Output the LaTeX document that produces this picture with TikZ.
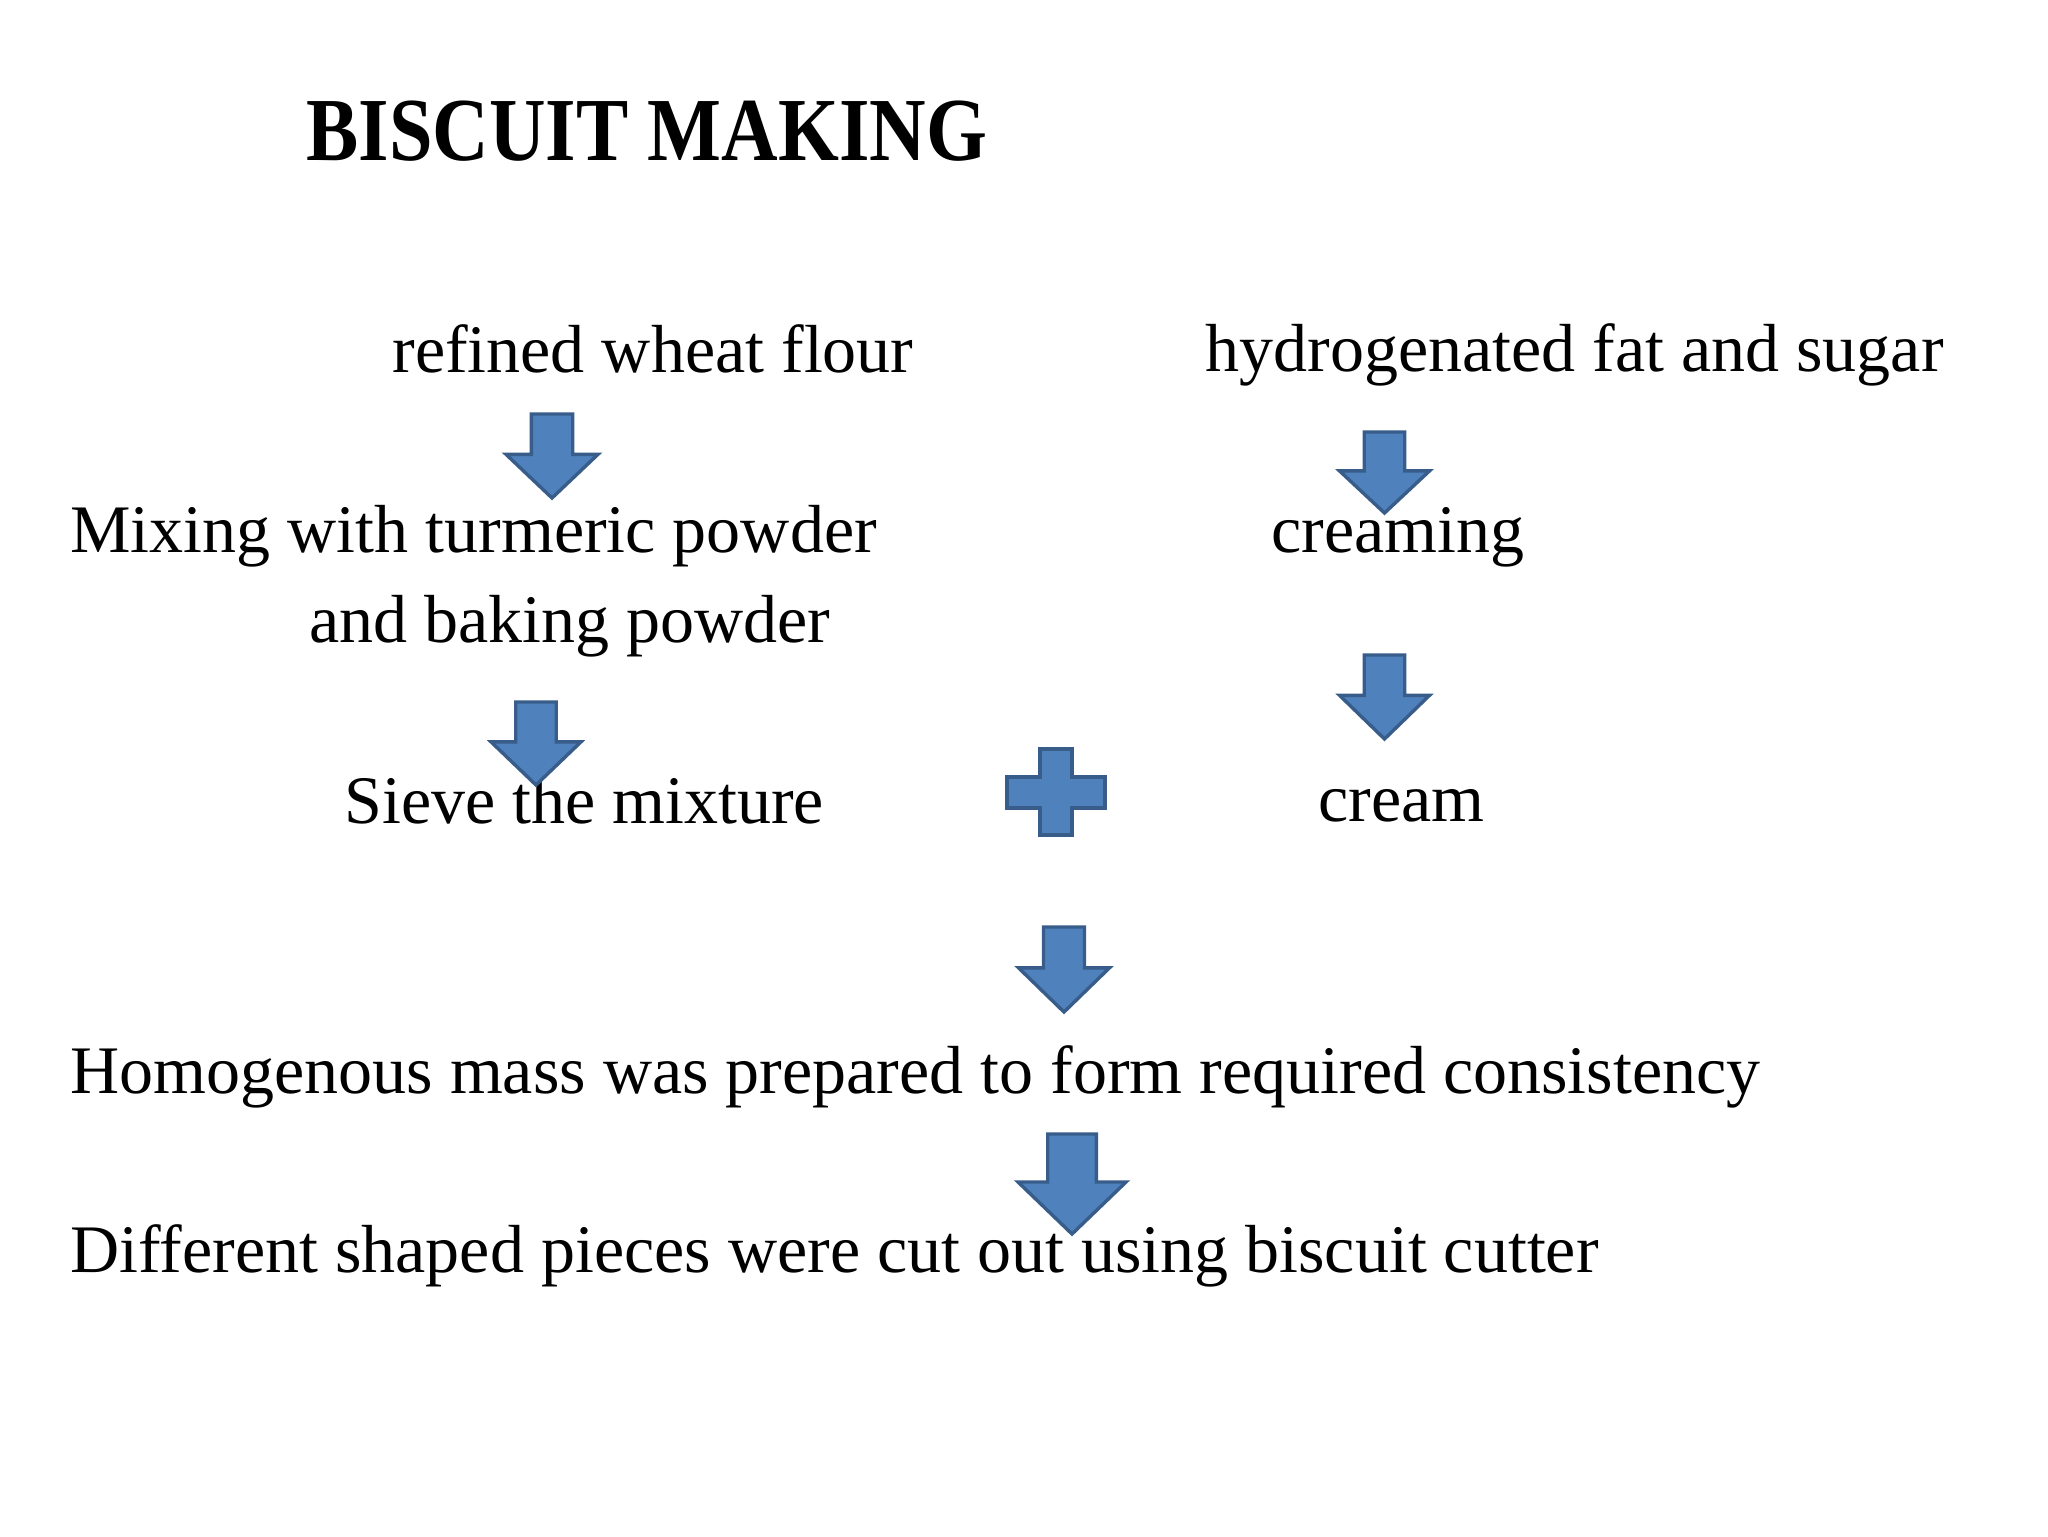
\documentclass[tikz,border=0pt]{standalone}
\usepackage{fontspec}
\setmainfont{Liberation Serif}
\definecolor{arrowfill}{HTML}{4F81BD}
\definecolor{arrowline}{HTML}{385D8A}
\newcommand\blockdown[4]{% center x, top y, width, height
  \draw[blockarrow] ({#1-0.225*#3},#2) -- ({#1+0.225*#3},#2) -- ({#1+0.225*#3},{#2+0.48*#4})
    -- ({#1+0.5*#3},{#2+0.48*#4}) -- (#1,{#2+#4}) -- ({#1-0.5*#3},{#2+0.48*#4})
    -- ({#1-0.225*#3},{#2+0.48*#4}) -- cycle;}
\begin{document}
\begin{tikzpicture}[x=0.5pt,y=-0.5pt,
  lbl/.style={anchor=base west,inner sep=0pt,font=\fontsize{34}{40}\selectfont},
  blockarrow/.style={fill=arrowfill,draw=arrowline,line width=1.7pt,line join=miter},
  ttl/.style={anchor=base west,inner sep=0pt,font=\bfseries\fontsize{45}{50}\selectfont}]
\useasboundingbox[fill=white] (0,0) rectangle (2048,1536);

\node[ttl] (title) at (306,160) {\scalebox{0.87}[1]{BISCUIT MAKING}};

\node[lbl] (flour) at (392,372) {refined wheat flour};
\node[lbl] (fat) at (1205,371) {hydrogenated fat and sugar};
\node[lbl] (mix1) at (70,552) {Mixing with turmeric powder};
\node[lbl] (mix2) at (309,642) {and baking powder};
\node[lbl] (creaming) at (1271,552) {creaming};
\node[lbl] (sieve) at (344,823) {Sieve the mixture};
\node[lbl] (cream) at (1318,821) {cream};
\node[lbl] (mass) at (70,1093) {Homogenous mass was prepared to form required consistency};
\node[lbl] (cut) at (70,1272) {Different shaped pieces were cut out using biscuit cutter};

\blockdown{552}{414}{92}{84}
\blockdown{1384.5}{432}{90}{81}
\blockdown{1384.5}{655}{90}{84}
\blockdown{536}{702}{90}{83}
\blockdown{1064}{927}{91}{85}
\blockdown{1072}{1134}{108}{100}

\draw[blockarrow] (1040,749) -- (1072,749) -- (1072,777) -- (1105,777) -- (1105,808)
  -- (1072,808) -- (1072,835) -- (1040,835) -- (1040,808) -- (1007,808) -- (1007,777)
  -- (1040,777) -- cycle;
\end{tikzpicture}
\end{document}
